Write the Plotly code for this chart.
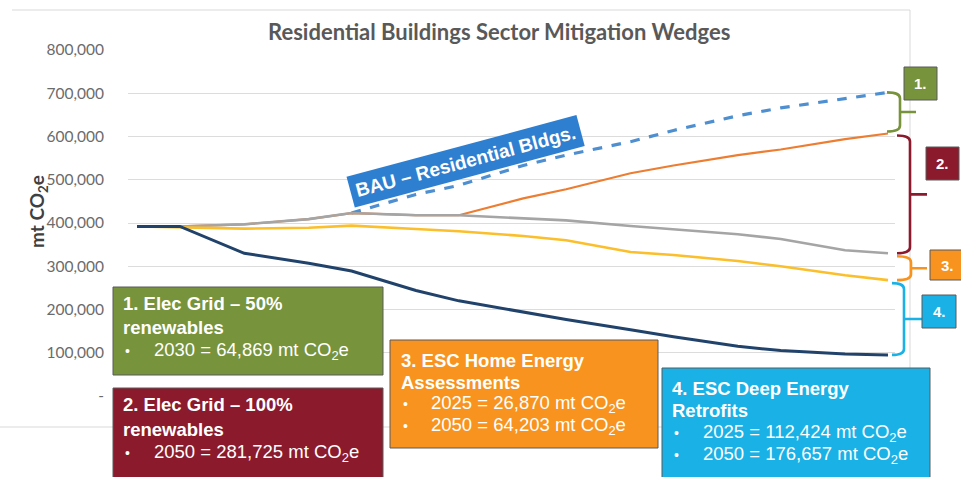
import plotly.graph_objects as go

# ---------------- data ----------------
years = [2015, 2017, 2020, 2023, 2025, 2028, 2030, 2033, 2035, 2038, 2040, 2043, 2045, 2048, 2050]
bau_residential = [None, None, None, None, 423000, 466000, 487000, 533000, 557000, 588000, 614000, 648000, 666000, 688000, 702000]
after_grid_50 = [392000, 392000, 397000, 409000, 423000, 418000, 418000, 457000, 478000, 515000, 533000, 557000, 570000, 594000, 607000]
after_grid_100 = [392000, 392000, 397000, 409000, 423000, 418000, 418000, 411000, 406000, 393000, 386000, 374000, 363000, 337000, 330000]
after_home_assess = [392000, 390000, 387000, 389000, 394000, 386000, 381000, 370000, 360000, 333000, 326000, 312000, 300000, 279000, 268000]
after_deep_retrofit = [392000, 392000, 330000, 307000, 289000, 244000, 220000, 194000, 177000, 153000, 137000, 115000, 105000, 97000, 95000]

y_tickvals = [0, 100000, 200000, 300000, 400000, 500000, 600000, 700000, 800000]
y_ticktext = ["-", "100,000", "200,000", "300,000", "400,000", "500,000", "600,000", "700,000", "800,000"]

title_text = "Residential Buildings Sector Mitigation Wedges"
bau_label = "BAU – Residential Bldgs."

# ---------------- layout geometry helpers ----------------
W, H = 961, 477
L, R, T, B = 128, 66, 50, 81
PW, PH = W - L - R, H - T - B
YMAX = 800000


def px(x):
    return (x - L) / PW


def py(y):
    return (H - B - y) / PH


def v2py(v):
    return (H - B) - v / YMAX * PH


fig = go.Figure()

fig.add_trace(go.Scatter(x=years, y=bau_residential, mode="lines", name="BAU",
                         line=dict(color="#4d8fd0", width=3.2, dash="dash")))
fig.add_trace(go.Scatter(x=years, y=after_grid_50, mode="lines", name="Grid 50%",
                         line=dict(color="#ed7d31", width=2.2)))
fig.add_trace(go.Scatter(x=years, y=after_grid_100, mode="lines", name="Grid 100%",
                         line=dict(color="#a5a5a5", width=2.6)))
fig.add_trace(go.Scatter(x=years, y=after_home_assess, mode="lines", name="Home Assess",
                         line=dict(color="#fbbf2c", width=2.6)))
fig.add_trace(go.Scatter(x=years, y=after_deep_retrofit, mode="lines", name="Deep Retrofit",
                         line=dict(color="#21436b", width=3)))

shapes = []
annotations = []

# chart-area border
border = "#d9d9d9"
shapes.append(dict(type="line", xref="paper", yref="paper", x0=px(12), x1=px(910), y0=py(10), y1=py(10),
                   line=dict(color=border, width=1), layer="below"))
shapes.append(dict(type="line", xref="paper", yref="paper", x0=px(910), x1=px(910), y0=py(10), y1=py(427),
                   line=dict(color=border, width=1), layer="below"))
shapes.append(dict(type="line", xref="paper", yref="paper", x0=px(0), x1=px(910), y0=py(427), y1=py(427),
                   line=dict(color=border, width=1), layer="below"))


# brackets built from series end values
def bracket(top_v, bot_v, x0, x1, x2, color, gap_top=0, gap_bot=0):
    yt = v2py(top_v) + gap_top
    yb = v2py(bot_v) - gap_bot
    ym = (yt + yb) / 2
    r = min(6, (yb - yt) / 4)
    path = (f"M {px(x0)},{py(yt)} Q {px(x1)},{py(yt)} {px(x1)},{py(yt + r)} "
            f"L {px(x1)},{py(yb - r)} Q {px(x1)},{py(yb)} {px(x0)},{py(yb)} "
            f"M {px(x1)},{py(ym)} L {px(x2)},{py(ym)}")
    shapes.append(dict(type="path", xref="paper", yref="paper", path=path,
                       line=dict(color=color, width=2.6)))
    return ym


green = "#77933c"
red = "#8b1a2d"
orange = "#f7931e"
cyan = "#19b1e6"

bracket(bau_residential[-1], after_grid_50[-1], 887, 900, 916, green, 0, 2)
bracket(after_grid_50[-1], after_grid_100[-1], 897, 910, 927, red, 2, 0)
bracket(after_grid_100[-1], after_home_assess[-1], 897, 911, 927, orange, 3, 0)
bracket(after_home_assess[-1], after_deep_retrofit[-1], 892, 904, 922, cyan, 3, 0)


def box(x0, y0, x1, y1, color):
    shapes.append(dict(type="rect", xref="paper", yref="paper", x0=px(x0), x1=px(x1), y0=py(y1), y1=py(y0),
                       fillcolor=color, line=dict(color="#5a5a5a", width=1)))


def txt(x, y, s, size=18.5, bold=False, color="white", family="Liberation Sans", anchor="left"):
    annotations.append(dict(xref="paper", yref="paper", x=px(x), y=py(y), text=(f"<b>{s}</b>" if bold else s),
                            showarrow=False, xanchor=anchor, yanchor="middle",
                            font=dict(family=family, size=size, color=color)))


# number boxes
for (x0, y0, x1, y1, c, lab) in [(904, 67, 937, 100, green, "1."), (926, 147, 959, 180, red, "2."),
                                 (930, 250, 966, 280, orange, "3."), (922, 295, 956, 328, cyan, "4.")]:
    box(x0, y0, x1, y1, c)
    txt((x0 + x1) / 2, (y0 + y1) / 2, lab, size=15, bold=True, anchor="center")

# description boxes
box(113, 287, 383, 375, green)
txt(121, 303, "1. Elec Grid – 50%", bold=True)
txt(121, 327, "renewables", bold=True)
txt(123, 351, "•", size=14)
txt(152, 351, "2030 = 64,869 mt CO<sub>2</sub>e")

box(113, 388, 383, 490, red)
txt(121, 404, "2. Elec Grid – 100%", bold=True)
txt(121, 429, "renewables", bold=True)
txt(123, 453, "•", size=14)
txt(152, 453, "2050 = 281,725 mt CO<sub>2</sub>e")

box(390, 340, 658, 448, orange)
txt(399, 360, "3. ESC Home Energy", bold=True)
txt(399, 382, "Assessments", bold=True)
txt(401, 404, "•", size=14)
txt(429, 404, "2025 = 26,870 mt CO<sub>2</sub>e")
txt(401, 426, "•", size=14)
txt(429, 426, "2050 = 64,203 mt CO<sub>2</sub>e")

box(662, 368, 930, 490, cyan)
txt(670, 388, "4. ESC Deep Energy", bold=True)
txt(670, 410, "Retrofits", bold=True)
txt(672, 433, "•", size=14)
txt(701, 433, "2025 = 112,424 mt CO<sub>2</sub>e")
txt(672, 455, "•", size=14)
txt(701, 455, "2050 = 176,657 mt CO<sub>2</sub>e")

# BAU rotated label
annotations.append(dict(xref="paper", yref="paper", x=px(465), y=py(161), text=f"<b>{bau_label}</b>",
                        showarrow=False, textangle=-15, bgcolor="#2f7fd1", borderpad=5,
                        font=dict(family="Liberation Sans", size=19, color="white"),
                        xanchor="center", yanchor="middle"))

# title
annotations.append(dict(xref="paper", yref="paper", x=px(499), y=py(32), text=f"<b>{title_text}</b>",
                        showarrow=False, xanchor="center", yanchor="middle",
                        font=dict(family="Lato", size=22, color="#595959")))

# y-axis title
annotations.append(dict(xref="paper", yref="paper", x=px(38), y=py(212), text="<b>mt CO<sub>2</sub>e</b>",
                        showarrow=False, xanchor="center", yanchor="middle", textangle=-90,
                        font=dict(family="Lato", size=19, color="#404040")))

x_lo = years[0] - 9 / (751 / (years[-1] - years[0]))
x_hi = years[-1] + 7 / (751 / (years[-1] - years[0]))

fig.update_layout(
    width=W, height=H,
    margin=dict(l=L, r=R, t=T, b=B, pad=0),
    paper_bgcolor="white", plot_bgcolor="white",
    showlegend=False,
    hovermode=False,
    xaxis=dict(range=[x_lo, x_hi], showticklabels=False, showgrid=False, zeroline=False,
               showline=False, ticks=""),
    yaxis=dict(range=[0, YMAX], tickvals=y_tickvals, ticktext=y_ticktext, showgrid=True,
               gridcolor="#dcdcdc", gridwidth=1, zeroline=False, showline=False, ticks="",
               ticklabelstandoff=23,
               tickfont=dict(family="Lato", size=15.5, color="#6b6b6b")),
    shapes=shapes,
    annotations=annotations,
)

fig.write_html("out.html", config={"displayModeBar": False},
               post_script="document.body.style.margin='0';document.body.style.overflow='hidden';")
